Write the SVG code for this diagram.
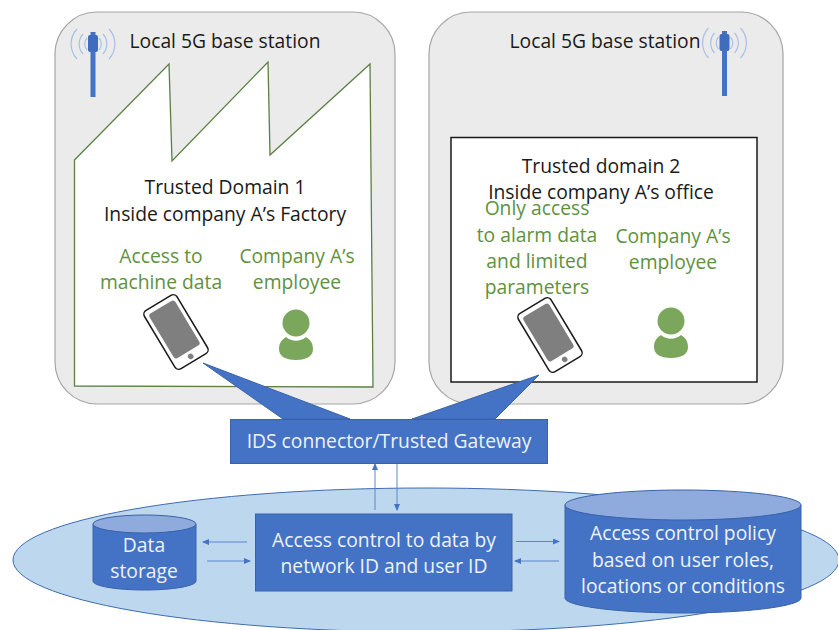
<svg xmlns="http://www.w3.org/2000/svg" width="838" height="630" viewBox="0 0 838 630">
<style>
text{font-family:"Open Sans","Noto Sans","Liberation Sans",sans-serif;font-size:19.3px;text-anchor:middle}
.k{fill:#1a1a1a}.g{fill:#5f9140}.w{fill:#eef3fa}
.panel{fill:#ebebeb;stroke:#a5a5a5;stroke-width:1.2}
.blue{fill:#4472c4;stroke:#3a62a8;stroke-width:1}
.top{fill:#8faadc;stroke:#3a62a8;stroke-width:1}
.wave{fill:none;stroke:#a9c0e6;stroke-width:1.2}
.con{fill:none;stroke:#5b86cf;stroke-width:1}
.person{fill:#7ba75d}
</style>
<defs>
<marker id="a" markerWidth="8" markerHeight="8" refX="6" refY="3" orient="auto" markerUnits="userSpaceOnUse"><path d="M0 0L7 3L0 6z" fill="#4472c4"/></marker>
<g id="mast"><path class="wave" d="M-6 -6A9 9 0 0 0 -6 6M6 -6A9 9 0 0 1 6 6M-10 -10A15 15 0 0 0 -10 10M10 -10A15 15 0 0 1 10 10M-16 -15A22 22 0 0 0 -16 15M16 -15A22 22 0 0 1 16 15"/><rect x="-2.500" y="-12" width="5" height="5" fill="#4472c4"/><rect x="-5" y="-9" width="10" height="17" rx="2" fill="#3f6cbd"/><rect x="-2.500" y="7" width="5" height="46" fill="#4472c4"/></g>
<g id="phone"><rect x="-19" y="-34" width="38" height="68" rx="4.500" fill="#fff" stroke="#1a1a1a" stroke-width="1.500"/><rect x="-15" y="-29" width="30" height="52" rx="3" fill="#7f7f7f"/><circle cx="0" cy="28.500" r="2.800" fill="#7f7f7f"/></g>
<g id="user"><circle cx="0" cy="-13" r="13.500" class="person"/><path class="person" d="M-10 1C-4 6 4 6 10 1C15 4 17 8 17 13C17 20 11 24 0 24C-11 24 -17 20 -17 13C-17 8 -15 4 -10 1z"/></g>
</defs>
<rect width="838" height="630" fill="#fff"/>
<g id="panel-left"><rect class="panel" x="55" y="12" width="340" height="392" rx="42"/></g>
<g id="panel-right"><rect class="panel" x="429" y="12" width="354" height="392" rx="42"/></g>
<g id="base-left"><use href="#mast" x="93" y="44"/><text class="k" x="225" y="48">Local 5G base station</text></g>
<g id="base-right"><use href="#mast" x="724.500" y="43"/><text class="k" x="605" y="48">Local 5G base station</text></g>
<g id="domain-1"><path d="M74.500 160L169 64L172 161L268 62L270 155L370 64L373 387L74.500 386z" fill="#fff" stroke="#5b7f44" stroke-width="1.300"/>
<text class="k" x="225" y="193.500">Trusted Domain 1</text><text class="k" x="225" y="220.500">Inside company A’s Factory</text>
<text class="g" x="161" y="262.500">Access to</text><text class="g" x="161" y="288.500">machine data</text>
<text class="g" x="297" y="262.500">Company A’s</text><text class="g" x="297" y="288.500">employee</text></g>
<g id="domain-2"><rect x="451" y="137.500" width="306" height="244.500" fill="#fff" stroke="#1a1a1a" stroke-width="1.500"/>
<text class="k" x="601" y="172.500">Trusted domain 2</text><text class="k" x="601" y="198.500">Inside company A’s office</text>
<text class="g" x="537" y="215">Only access</text><text class="g" x="537" y="241.500">to alarm data</text><text class="g" x="537" y="267.500">and limited</text><text class="g" x="537" y="294">parameters</text>
<text class="g" x="673" y="242.500">Company A’s</text><text class="g" x="673" y="268.500">employee</text></g>
<g id="device-1"><use href="#phone" transform="translate(176 332) rotate(-31)"/></g>
<g id="employee-1"><use href="#user" x="296" y="336"/></g>
<g id="device-2"><use href="#phone" transform="translate(550 335) rotate(-31)"/></g>
<g id="employee-2"><use href="#user" x="671" y="334"/></g>
<g id="pool"><ellipse cx="426" cy="560" rx="413" ry="72" fill="#bdd7ee" stroke="#3f6cb0" stroke-width="1"/></g>
<g id="gateway"><path class="blue" d="M203 363L283 419H350z" stroke="none"/><path class="blue" d="M539 375L412 419H495z" stroke="none"/><rect class="blue" x="230.500" y="419.500" width="317" height="44"/>
<text class="w" x="389" y="448">IDS connector/Trusted Gateway</text></g>
<g id="storage"><path class="blue" d="M93 524V581C93 586 116 590 144.500 590S196 586 196 581V524z"/><ellipse class="top" cx="144.500" cy="524" rx="51.500" ry="9"/><text class="w" x="144" y="552">Data</text><text class="w" x="144" y="578">storage</text></g>
<g id="access"><rect class="blue" x="255.500" y="514" width="256.500" height="77"/><text class="w" x="384" y="547">Access control to data by</text><text class="w" x="384" y="573">network ID and user ID</text></g>
<g id="policy"><path class="blue" d="M565 505V598C565 606 618 613 683 613S801 606 801 598V505z"/><ellipse class="top" cx="683" cy="505" rx="118" ry="15"/><text class="w" x="683" y="540">Access control policy</text><text class="w" x="683" y="566.500">based on user roles,</text><text class="w" x="683" y="592.500">locations or conditions</text></g>
<g id="connectors" class="con">
<path d="M375 510V464" marker-end="url(#a)"/><path d="M397 464V510" marker-end="url(#a)"/>
<path d="M247 542H203" marker-end="url(#a)"/><path d="M207 561H250" marker-end="url(#a)"/>
<path d="M516 541.500H559" marker-end="url(#a)"/><path d="M559 561H515" marker-end="url(#a)"/>
</g>
</svg>
